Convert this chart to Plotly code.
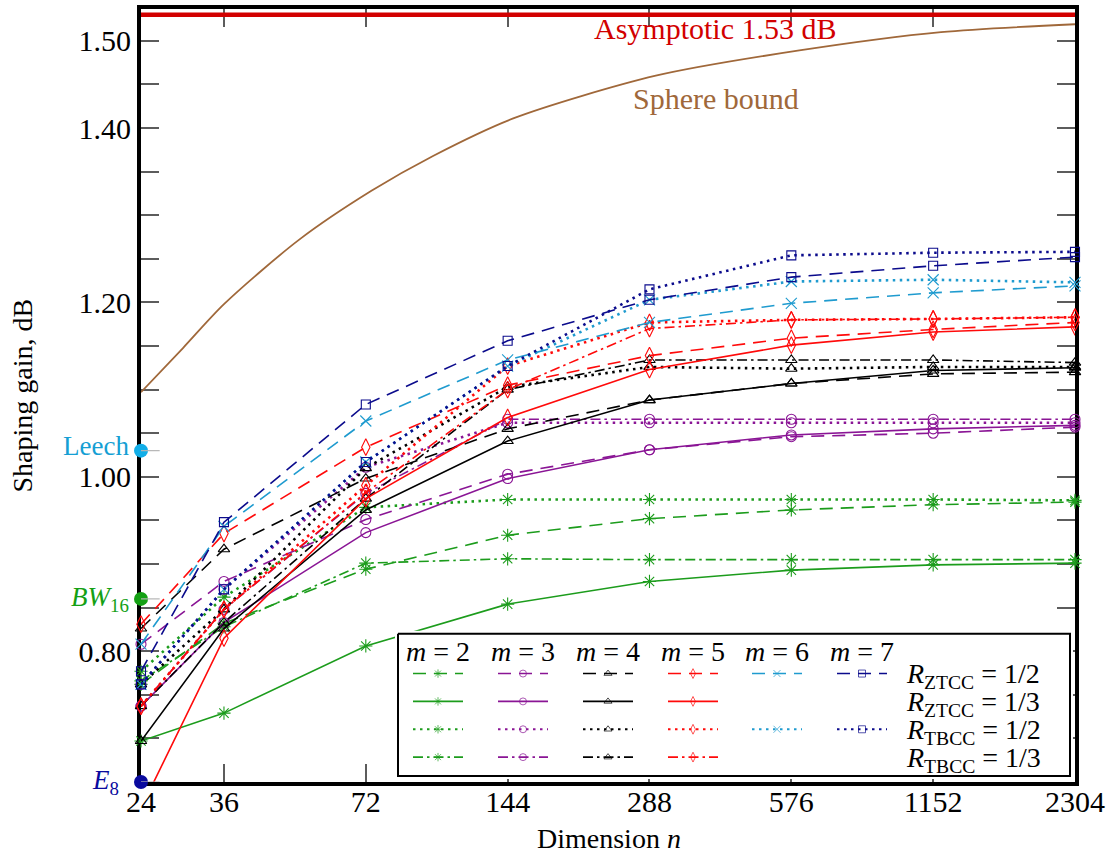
import math
import plotly.graph_objects as go

# Block lengths n on the horizontal axis
n_vals = [24, 36, 72, 144, 288, 576, 1152, 2304]
n_labels = ["24", "36", "72", "144", "288", "576", "1152", "2304"]

# Shaping gain (dB) per memory m and code family
m2_ztcc_half = [0.762, 0.832, 0.894, 0.933, 0.952, 0.962, 0.968, 0.971]
m2_ztcc_third = [0.697, 0.729, 0.806, 0.854, 0.880, 0.893, 0.899, 0.901]
m2_tbcc_half = [0.777, 0.862, 0.965, 0.974, 0.974, 0.974, 0.974, 0.973]
m2_tbcc_third = [0.766, 0.828, 0.901, 0.906, 0.905, 0.905, 0.905, 0.905]

m3_ztcc_half = [0.808, 0.880, 0.951, 1.003, 1.031, 1.046, 1.050, 1.057]
m3_ztcc_third = [0.737, 0.833, 0.936, 0.998, 1.031, 1.048, 1.055, 1.059]
m3_tbcc_half = [0.762, 0.871, 1.011, 1.062, 1.062, 1.062, 1.062, 1.062]
m3_tbcc_third = [0.737, 0.848, 0.981, 1.066, 1.066, 1.066, 1.066, 1.066]

m4_ztcc_half = [0.826, 0.917, 0.998, 1.055, 1.088, 1.107, 1.118, 1.120]
m4_ztcc_third = [0.697, 0.826, 0.962, 1.041, 1.088, 1.107, 1.122, 1.125]
m4_tbcc_half = [0.762, 0.848, 1.010, 1.103, 1.126, 1.124, 1.126, 1.126]
m4_tbcc_third = [0.737, 0.833, 0.975, 1.100, 1.134, 1.134, 1.134, 1.131]

m5_ztcc_half = [0.831, 0.935, 1.034, 1.105, 1.139, 1.159, 1.169, 1.177]
m5_ztcc_third = [0.620, 0.815, 0.975, 1.068, 1.123, 1.151, 1.166, 1.172]
m5_tbcc_half = [0.737, 0.848, 0.990, 1.127, 1.177, 1.180, 1.181, 1.183]
m5_tbcc_third = [0.737, 0.848, 0.982, 1.100, 1.170, 1.180, 1.181, 1.183]

m6_ztcc_half = [0.808, 0.943, 1.064, 1.134, 1.177, 1.199, 1.211, 1.219]
m6_tbcc_half = [0.762, 0.871, 1.017, 1.127, 1.203, 1.224, 1.226, 1.223]

m7_ztcc_half = [0.777, 0.948, 1.083, 1.156, 1.203, 1.229, 1.242, 1.252]
m7_tbcc_half = [0.762, 0.871, 1.017, 1.127, 1.215, 1.254, 1.257, 1.258]

# Sphere bound and asymptotic limit
sphere_n = [24, 29.5, 36, 52, 74, 100, 148, 297, 599, 1197, 2304]
sphere_gain = [1.097, 1.148, 1.198, 1.272, 1.328, 1.368, 1.411, 1.460, 1.489, 1.510, 1.519]
asymptote_gain = 1.53

# Reference lattices on the gain axis
lattice_names = ["Leech", "<i>BW</i><sub>16</sub>", "<i>E</i><sub>8</sub>"]
lattice_gain = [1.03, 0.86, 0.65]

y_tick_vals = [0.70, 0.75, 0.80, 0.85, 0.90, 0.95, 1.00, 1.05, 1.10, 1.15,
               1.20, 1.25, 1.30, 1.35, 1.40, 1.45, 1.50]
y_tick_text = ["", "", "0.80", "", "", "", "1.00", "", "", "",
               "1.20", "", "", "", "1.40", "", "1.50"]

GREEN = "#1c9c1c"
PURPLE = "#8a1595"
BLACK = "#000000"
RED = "#ff0a0a"
CYAN = "#1f9bcf"
NAVY = "#0b0b8c"
BROWN = "#a0683a"
ASYM_RED = "#d20000"
FONT = "Liberation Serif"

m_colors = {2: GREEN, 3: PURPLE, 4: BLACK, 5: RED, 6: CYAN, 7: NAVY}
m_symbols = {2: "asterisk-open", 3: "circle-open", 4: "triangle-up-open",
             5: "diamond-tall-open", 6: "x-thin-open", 7: "square-open"}
m_sizes = {2: 11, 3: 10, 4: 10, 5: 12, 6: 11, 7: 9}

code_styles = {
    "ztcc_half": dict(dash="13px,8px", width=1.6),
    "ztcc_third": dict(dash="solid", width=1.6),
    "tbcc_half": dict(dash="2.5px,4.5px", width=2.6),
    "tbcc_third": dict(dash="10px,4px,2.5px,4px", width=1.6),
}

series = [
    (2, "ztcc_half", m2_ztcc_half), (2, "ztcc_third", m2_ztcc_third),
    (2, "tbcc_half", m2_tbcc_half), (2, "tbcc_third", m2_tbcc_third),
    (3, "ztcc_half", m3_ztcc_half), (3, "ztcc_third", m3_ztcc_third),
    (3, "tbcc_half", m3_tbcc_half), (3, "tbcc_third", m3_tbcc_third),
    (4, "ztcc_half", m4_ztcc_half), (4, "ztcc_third", m4_ztcc_third),
    (4, "tbcc_half", m4_tbcc_half), (4, "tbcc_third", m4_tbcc_third),
    (5, "ztcc_half", m5_ztcc_half), (5, "ztcc_third", m5_ztcc_third),
    (5, "tbcc_half", m5_tbcc_half), (5, "tbcc_third", m5_tbcc_third),
    (6, "ztcc_half", m6_ztcc_half), (6, "tbcc_half", m6_tbcc_half),
    (7, "ztcc_half", m7_ztcc_half), (7, "tbcc_half", m7_tbcc_half),
]

fig = go.Figure()

# Asymptote and sphere bound
fig.add_trace(go.Scatter(
    x=[n_vals[0], n_vals[-1]], y=[asymptote_gain, asymptote_gain], mode="lines",
    line=dict(color=ASYM_RED, width=4.5), hoverinfo="skip"))
fig.add_trace(go.Scatter(
    x=sphere_n, y=sphere_gain, mode="lines",
    line=dict(color=BROWN, width=1.8, shape="spline", smoothing=0.8), hoverinfo="skip"))

# Code curves
for m, code, vals in series:
    c = m_colors[m]
    st = code_styles[code]
    fig.add_trace(go.Scatter(
        x=n_vals, y=vals, mode="lines+markers",
        line=dict(color=c, width=st["width"], dash=st["dash"]),
        marker=dict(symbol=m_symbols[m], size=m_sizes[m], color=c,
                    line=dict(color=c, width=1.1)),
        cliponaxis=min(vals) < 0.65,
        name=f"m={m} {code}"))

# Lattice reference points on the left axis
fig.add_trace(go.Scatter(
    x=[n_vals[0]] * 3, y=lattice_gain, mode="markers",
    marker=dict(size=14, color=["#12aee8", "#14a014", "#0a0a9e"]),
    cliponaxis=False, hoverinfo="skip"))

# Legend panel drawn on its own overlay axes (pixel-like units)
LX0, LX1, LY0, LY1 = 398, 1070, 633, 776
PX0, PX1, PY0, PY1 = 141, 1075, 5, 782
pad = 3
fig.add_trace(go.Scatter(
    x=[LX0, LX1, LX1, LX0, LX0], y=[LY0, LY0, LY1, LY1, LY0],
    mode="lines", fill="toself", fillcolor="white",
    line=dict(color="black", width=2), xaxis="x2", yaxis="y2", hoverinfo="skip"))

leg_cols = {2: 438, 3: 523, 4: 608, 5: 693, 6: 777, 7: 862}
leg_rows = {"ztcc_half": 673, "ztcc_third": 701, "tbcc_half": 729, "tbcc_third": 757}
half_w = 25
for m, code, vals in series:
    cx = leg_cols[m]
    ry = leg_rows[code]
    c = m_colors[m]
    st = code_styles[code]
    fig.add_trace(go.Scatter(
        x=[cx - half_w, cx, cx + half_w], y=[ry, ry, ry], mode="lines+markers",
        line=dict(color=c, width=min(st["width"], 2.0), dash=st["dash"]),
        marker=dict(symbol=m_symbols[m], size=[0, 7, 0], color=c,
                    line=dict(color=c, width=1)),
        xaxis="x2", yaxis="y2", hoverinfo="skip"))

annotations = []
for m, cx in leg_cols.items():
    annotations.append(dict(
        x=cx, y=651, xref="x2", yref="y2", text=f"<i>m</i> = {m}", showarrow=False,
        font=dict(family=FONT, size=28, color="black"), xanchor="center", yanchor="middle"))
row_labels = {
    "ztcc_half": "<i>R</i><sub>ZTCC</sub> = 1/2",
    "ztcc_third": "<i>R</i><sub>ZTCC</sub> = 1/3",
    "tbcc_half": "<i>R</i><sub>TBCC</sub> = 1/2",
    "tbcc_third": "<i>R</i><sub>TBCC</sub> = 1/3",
}
for code, ry in leg_rows.items():
    annotations.append(dict(
        x=904, y=ry + 2, xref="x2", yref="y2", text=row_labels[code], showarrow=False,
        font=dict(family=FONT, size=28, color="black"), xanchor="left", yanchor="middle"))

# Lattice labels beside the axis
lat_colors = ["#159fd4", "#14a014", "#0a0a9e"]
lat_shift = [-10, -10, -20]
lat_dy = [5, 0, 0]
for name, g, col, sh, dy in zip(lattice_names, lattice_gain, lat_colors, lat_shift, lat_dy):
    annotations.append(dict(
        x=0, y=g, xref="paper", yref="y", text=name, showarrow=False, xanchor="right",
        yanchor="middle", xshift=sh, yshift=dy, font=dict(family=FONT, size=27, color=col)))

# Curve captions
pw = PX1 - PX0
ph = PY1 - PY0
annotations.append(dict(
    x=(715 - PX0) / pw, y=(PY1 - 25) / ph, xref="paper", yref="paper",
    text="Asymptotic 1.53 dB", showarrow=False, xanchor="center", yanchor="middle",
    font=dict(family=FONT, size=30, color=ASYM_RED)))
annotations.append(dict(
    x=(716 - PX0) / pw, y=(PY1 - 95) / ph, xref="paper", yref="paper",
    text="Sphere bound", showarrow=False, xanchor="center", yanchor="middle",
    font=dict(family=FONT, size=30, color=BROWN)))

# Axis titles
annotations.append(dict(
    x=(609 - PX0) / pw, y=(PY1 - 839) / ph, xref="paper", yref="paper",
    text="Dimension <i>n</i>", showarrow=False, xanchor="center", yanchor="middle",
    font=dict(family=FONT, size=28, color="black")))
annotations.append(dict(
    x=(22 - PX0) / pw, y=0.5, xref="paper", yref="paper", textangle=-90,
    text="Shaping gain, dB", showarrow=False, xanchor="center", yanchor="middle",
    font=dict(family=FONT, size=28, color="black")))

# Faint ticks marking the lattice gains
shapes = []
for g in lattice_gain:
    shapes.append(dict(type="line", xref="x domain", yref="y", x0=0, x1=0.02,
                       y0=g, y1=g, line=dict(color="#b5b5b5", width=1.2), layer="above"))

tick_style = dict(ticks="inside", ticklen=18, tickwidth=1.5, tickcolor="#5c5c5c",
                  showline=True, linewidth=4, linecolor="black", mirror="ticks",
                  showgrid=False, zeroline=False, layer="below traces",
                  tickfont=dict(family=FONT, size=30, color="black"))

fig.update_layout(
    width=1114, height=858,
    margin=dict(l=PX0, r=1114 - PX1, t=PY0, b=858 - PY1),
    plot_bgcolor="white", paper_bgcolor="white", showlegend=False,
    font=dict(family=FONT, size=28, color="black"),
    xaxis=dict(type="log", range=[math.log10(24), math.log10(2304)],
               tickvals=n_vals, ticktext=n_labels, ticklabelstandoff=-10, **tick_style),
    yaxis=dict(range=[0.65, 1.5365], tickvals=y_tick_vals, ticktext=y_tick_text,
               **tick_style),
    xaxis2=dict(domain=[(LX0 - pad - PX0) / pw, (LX1 + pad - PX0) / pw],
                range=[LX0 - pad, LX1 + pad], anchor="y2", visible=False),
    yaxis2=dict(domain=[(PY1 - LY1 - pad) / ph, (PY1 - LY0 + pad) / ph],
                range=[LY1 + pad, LY0 - pad], anchor="x2", visible=False),
    annotations=annotations,
    shapes=shapes,
)

fig.write_html("out.html")
